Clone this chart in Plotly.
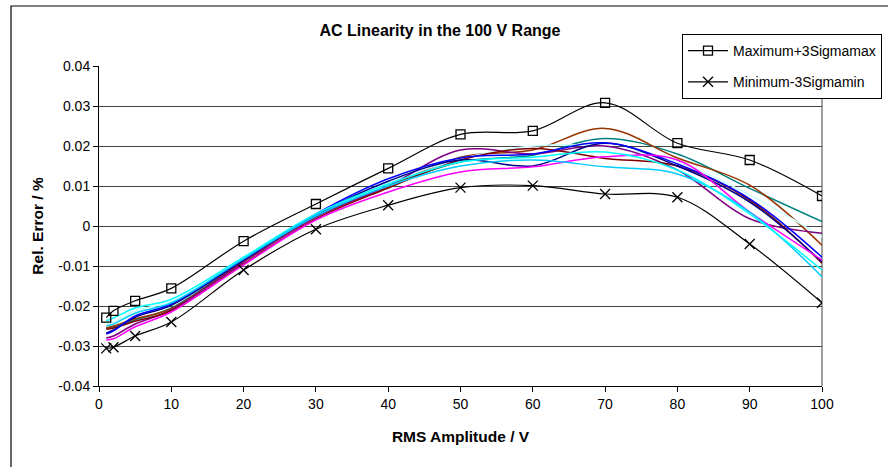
import plotly.graph_objects as go

# RMS amplitudes (V) at which the relative error was measured
amplitude = [1, 2, 5, 10, 20, 30, 40, 50, 60, 70, 80, 90, 100]

# Envelope curves
max_3sigma = [-0.0229, -0.0212, -0.0187, -0.0156, -0.0038, 0.0055, 0.0144,
              0.0229, 0.0238, 0.0308, 0.0207, 0.0165, 0.0075]
min_3sigma = [-0.0306, -0.0303, -0.0275, -0.0240, -0.0110, -0.0008, 0.0052,
              0.0096, 0.0101, 0.0080, 0.0072, -0.0045, -0.0192]

# Individual unit curves
unit_cyan = [-0.0237, -0.0230, -0.0205, -0.0183, -0.0078, 0.0030, 0.0105,
             0.0160, 0.0172, 0.0185, 0.0140, 0.0030, -0.0110]
unit_lightcyan = [-0.0245, -0.0240, -0.0212, -0.0188, -0.0080, 0.0028, 0.0108,
                  0.0168, 0.0200, 0.0198, 0.0160, 0.0078, -0.0027]
unit_skyblue = [-0.0250, -0.0245, -0.0218, -0.0192, -0.0082, 0.0025, 0.0100,
                0.0150, 0.0165, 0.0148, 0.0130, 0.0035, -0.0127]
unit_blue = [-0.0270, -0.0262, -0.0225, -0.0195, -0.0083, 0.0030, 0.0118,
             0.0170, 0.0180, 0.0208, 0.0155, 0.0068, -0.0078]
unit_navy = [-0.0268, -0.0260, -0.0228, -0.0198, -0.0085, 0.0027, 0.0112,
             0.0165, 0.0150, 0.0207, 0.0150, 0.0060, -0.0090]
unit_teal = [-0.0255, -0.0252, -0.0235, -0.0205, -0.0087, 0.0025, 0.0100,
             0.0160, 0.0177, 0.0219, 0.0180, 0.0094, 0.0011]
unit_brown = [-0.0255, -0.0250, -0.0232, -0.0207, -0.0088, 0.0023, 0.0098,
              0.0172, 0.0190, 0.0244, 0.0170, 0.0102, -0.0048]
unit_purple = [-0.0280, -0.0275, -0.0245, -0.0210, -0.0090, 0.0022, 0.0100,
               0.0190, 0.0180, 0.0200, 0.0140, 0.0018, -0.0018]
unit_maroon = [-0.0258, -0.0255, -0.0238, -0.0212, -0.0095, 0.0018, 0.0095,
               0.0165, 0.0194, 0.0169, 0.0150, 0.0065, -0.0093]
unit_magenta = [-0.0285, -0.0282, -0.0252, -0.0215, -0.0097, 0.0015, 0.0085,
                0.0135, 0.0148, 0.0173, 0.0165, 0.0035, -0.0085]

units = [
    (unit_teal, "#008080"),
    (unit_brown, "#993300"),
    (unit_lightcyan, "#CCFFFF"),
    (unit_purple, "#800080"),
    (unit_maroon, "#800000"),
    (unit_navy, "#000080"),
    (unit_blue, "#0000FF"),
    (unit_magenta, "#FF00FF"),
    (unit_skyblue, "#00CCFF"),
    (unit_cyan, "#00FFFF"),
]

y_ticks = [0.04, 0.03, 0.02, 0.01, 0, -0.01, -0.02, -0.03, -0.04]
y_tick_text = ["0.04", "0.03", "0.02", "0.01", "0", "-0.01", "-0.02", "-0.03", "-0.04"]
x_ticks = [0, 10, 20, 30, 40, 50, 60, 70, 80, 90, 100]

FONT = "Arial, Liberation Sans, sans-serif"

fig = go.Figure()

for values, color in units:
    fig.add_trace(go.Scatter(
        x=amplitude, y=values, mode="lines",
        line=dict(color=color, width=1.5, shape="spline"),
        showlegend=False, hoverinfo="skip",
    ))

fig.add_trace(go.Scatter(
    x=amplitude, y=max_3sigma, mode="lines+markers",
    name="Maximum+3Sigmamax", legendgroup="a",
    line=dict(color="black", width=1.2, shape="spline"),
    marker=dict(symbol="square-open", size=9, color="black",
                line=dict(width=1.3, color="black")),
))
fig.add_trace(go.Scatter(
    x=amplitude, y=min_3sigma, mode="lines+markers",
    name="Minimum-3Sigmamin", legendgroup="b",
    line=dict(color="black", width=1.2, shape="spline"),
    marker=dict(symbol="x-thin", size=10, color="black",
                line=dict(width=1.3, color="black")),
))

L, R, T, B = 99, 66, 66, 81
W, H = 888, 467
pw, ph = W - L - R, H - T - B

fig.update_layout(
    width=W, height=H,
    margin=dict(l=L, r=R, t=T, b=B, pad=0, autoexpand=False),
    paper_bgcolor="white", plot_bgcolor="white",
    font=dict(family=FONT, size=14, color="black"),
    title=dict(text="<b>AC Linearity in the 100 V Range</b>",
               font=dict(family=FONT, size=16, color="black"),
               x=440 / W, xanchor="center", y=1 - 30 / H, yanchor="middle"),
    xaxis=dict(
        range=[0, 100], tickvals=x_ticks, ticks="outside", ticklen=5,
        tickcolor="black", showgrid=False, zeroline=False,
        showline=True, linecolor="black", linewidth=1,
        tickfont=dict(family=FONT, size=14),
        title=dict(text="<b>RMS Amplitude / V</b>",
                   font=dict(family=FONT, size=15.5), standoff=20),
    ),
    yaxis=dict(
        range=[-0.04, 0.04], tickvals=y_ticks, ticktext=y_tick_text,
        ticks="outside", ticklen=5, tickcolor="black",
        showgrid=True, gridcolor="#444444", gridwidth=1, zeroline=False,
        showline=True, linecolor="black", linewidth=1,
        tickfont=dict(family=FONT, size=14),
        title=dict(text="<b>Rel. Error / %</b>",
                   font=dict(family=FONT, size=15.5), standoff=10),
    ),
    legend=dict(
        x=(682 - L) / pw, y=(H - B - 34) / ph, xanchor="left", yanchor="top",
        bgcolor="white", bordercolor="black", borderwidth=1,
        font=dict(family=FONT, size=14), tracegroupgap=10,
        itemwidth=40,
    ),
    shapes=[
        # plot-area frame (right edge)
        dict(type="line", xref="paper", yref="paper", x0=1, x1=1, y0=0, y1=1,
             line=dict(color="#808080", width=1.5), layer="below"),
        # chart-area frame
        dict(type="rect", xref="paper", yref="paper",
             x0=(11 - L) / pw, x1=(W + 5 - L) / pw,
             y0=(H - B - (H + 5)) / ph, y1=(H - B - 6) / ph,
             line=dict(color="black", width=1.2), layer="below"),
    ],
)

fig.write_html("out.html")
